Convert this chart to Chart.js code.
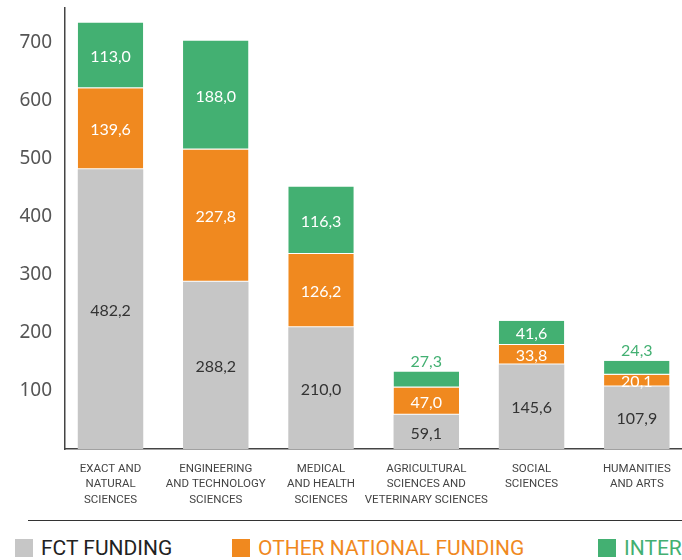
<!DOCTYPE html>
<html>
<head>
<meta charset="utf-8">
<script src="https://cdn.jsdelivr.net/npm/chart.js@4/dist/chart.umd.min.js"></script>
<style>
  html,body{margin:0;padding:0;background:#fff;overflow:hidden;width:682px;height:560px;}
  #wrap{position:relative;width:682px;height:560px;overflow:hidden;}
  canvas{position:absolute;left:0;top:0;}
  #legend{position:absolute;left:28px;top:520px;width:700px;border-top:1.5px solid #333;height:40px;}
  .item{position:absolute;top:17px;display:flex;align-items:center;white-space:nowrap;
        font-family:Roboto,"Noto Sans",sans-serif;font-size:21px;line-height:20px;}
  .sw{width:18px;height:18px;margin-right:8px;flex:none;}
</style>
</head>
<body>
<div id="wrap">
  <canvas id="c" width="682" height="515"></canvas>
  <div id="legend"></div>
</div>
<script>
const categories = [
  ["EXACT AND", "NATURAL", "SCIENCES"],
  ["ENGINEERING", "AND TECHNOLOGY", "SCIENCES"],
  ["MEDICAL", "AND HEALTH", "SCIENCES"],
  ["AGRICULTURAL", "SCIENCES AND", "VETERINARY SCIENCES"],
  ["SOCIAL", "SCIENCES"],
  ["HUMANITIES", "AND ARTS"]
];
const seriesNames = ["FCT FUNDING", "OTHER NATIONAL FUNDING", "INTERNATIONAL FUNDING"];
const fctFunding = [482.2, 288.2, 210.0, 59.1, 145.6, 107.9];
const otherNational = [139.6, 227.8, 126.2, 47.0, 33.8, 20.1];
const international = [113.0, 188.0, 116.3, 27.3, 41.6, 24.3];
const yTicks = [100, 200, 300, 400, 500, 600, 700];

const colors = ["#c6c6c6", "#f0891f", "#43b072"];
const labelColors = ["#333333", "#ffffff", "#ffffff"];
const legendTextColors = ["#222222", "#f0891f", "#43b072"];
const seriesValues = [fctFunding, otherNational, international];

const fmt = v => v.toFixed(1).replace('.', ',');

const datasets = seriesValues.map((vals, s) => ({
  label: seriesNames[s],
  data: vals.map((v, i) => ({x: i, y: v})),
  backgroundColor: colors[s],
  borderColor: 'rgba(255,255,255,0.75)',
  borderWidth: s === 0 ? 0 : {top: 0, right: 0, bottom: 1, left: 0},
  borderSkipped: false,
  barPercentage: 0.622,
  categoryPercentage: 1.0
}));

const labelPlugin = {
  id: 'segLabels',
  afterDatasetsDraw(chart) {
    const ctx = chart.ctx;
    ctx.save();
    ctx.font = '16px Lato, "Noto Sans", sans-serif';
    ctx.textAlign = 'center';
    ctx.textBaseline = 'middle';
    const last = chart.data.datasets.length - 1;
    chart.data.datasets.forEach((ds, s) => {
      const meta = chart.getDatasetMeta(s);
      meta.data.forEach((el, i) => {
        const v = seriesValues[s][i];
        const h = el.base - el.y;
        if (s === last && h < 20) {
          ctx.fillStyle = colors[s];
          ctx.fillText(fmt(v), el.x, el.y - 10);
        } else {
          ctx.fillStyle = labelColors[s];
          ctx.fillText(fmt(v), el.x, (el.y + el.base) / 2 + 1.5);
        }
      });
    });
    ctx.restore();
  }
};

new Chart(document.getElementById('c'), {
  type: 'bar',
  data: { datasets },
  plugins: [labelPlugin],
  options: {
    responsive: false,
    animation: false,
    layout: { padding: { top: 8, left: 0, right: 0, bottom: 0 } },
    plugins: { legend: { display: false }, tooltip: { enabled: false } },
    scales: {
      x: {
        type: 'linear',
        stacked: true,
        offset: false,
        min: -0.4323,
        max: 5.4294,
        grid: { display: false, drawTicks: false, offset: false },
        border: { display: true, color: '#444', width: 1.5 },
        afterBuildTicks: sc => { sc.ticks = categories.map((c, i) => ({ value: i })); },
        ticks: {
          autoSkip: false, maxRotation: 0, minRotation: 0,
          padding: 12,
          color: '#444',
          font: { family: 'Roboto, "Noto Sans", sans-serif', size: 11.5, lineHeight: 1.35 },
          callback: v => categories[v] || ''
        },
        afterFit: sc => { sc.height = 66; sc.paddingLeft = 0; sc.paddingRight = 0; }
      },
      y: {
        stacked: true,
        min: 0,
        max: 760,
        grid: { display: false, drawTicks: false },
        border: { display: true, color: '#444', width: 1.5 },
        afterBuildTicks: sc => { sc.ticks = yTicks.map(v => ({ value: v })); },
        ticks: {
          padding: 13,
          color: '#555555',
          font: { family: '"Noto Sans", sans-serif', size: 19 },
          callback: v => String(v)
        },
        afterFit: sc => { sc.width = 65; sc.paddingTop = 0; sc.paddingBottom = 0; }
      }
    }
  }
});

// HTML legend built from series names
const legend = document.getElementById('legend');
const itemLefts = [-13, 204, 570];
seriesNames.forEach((name, s) => {
  const it = document.createElement('div');
  it.className = 'item';
  it.style.left = itemLefts[s] + 'px';
  const sw = document.createElement('span');
  sw.className = 'sw';
  sw.style.background = colors[s];
  const tx = document.createElement('span');
  tx.textContent = name;
  tx.style.color = legendTextColors[s];
  it.appendChild(sw); it.appendChild(tx);
  legend.appendChild(it);
});
</script>
</body>
</html>
